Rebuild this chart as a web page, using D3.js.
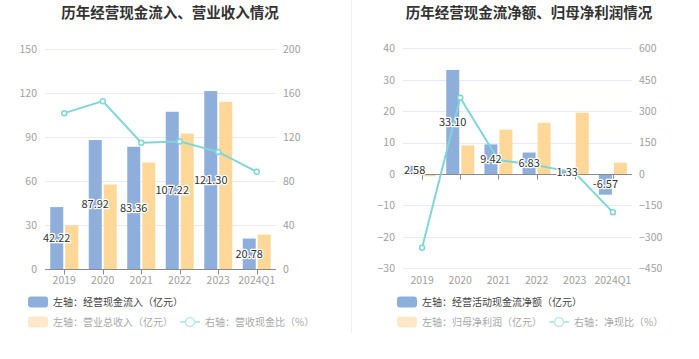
<!DOCTYPE html>
<html><head><meta charset="utf-8">
<script src="https://cdn.jsdelivr.net/npm/d3@7"></script>
<style>
body{margin:0;background:#fff;font-family:"Noto Sans CJK SC","Noto Sans",sans-serif;}
svg text{font-family:"Noto Sans CJK SC","Noto Sans",sans-serif;}
</style></head>
<body><svg id="c" width="699" height="359"></svg>
<script>
const categories = ["2019","2020","2021","2022","2023","2024Q1"];
// left chart
const cashInflow = [42.22, 87.92, 83.36, 107.22, 121.30, 20.78];
const revenue = [29.8, 57.6, 72.6, 92.4, 114.0, 23.5];
const revenueCashRatio = [141.7, 152.6, 114.8, 116.0, 106.4, 88.4];
const leftTicksL = [0, 30, 60, 90, 120, 150];
const leftTicksR = [0, 40, 80, 120, 160, 200];
// right chart
const netCashFlow = [2.58, 33.10, 9.42, 6.83, 1.33, -6.57];
const netProfit = [-0.73, 9.1, 14.1, 16.3, 19.5, 3.6];
const netCashRatio = [-352, 364, 67, 42, 7, -183];
const rightTicksL = [-30, -20, -10, 0, 10, 20, 30, 40];
const rightTicksR = [-450, -300, -150, 0, 150, 300, 450, 600];

const BLUE = "#8eaedc", ORANGE = "#ffd899", LINE = "#7fd6da";
const svg = d3.select("#c");

svg.append("line").attr("x1",351.5).attr("x2",351.5).attr("y1",0).attr("y2",333)
  .attr("stroke","#eeeeee");

function panel(o){
  const g = svg.append("g");
  g.append("text").attr("x",o.titleX).attr("y",18).attr("text-anchor","middle")
    .attr("font-size",14.5).attr("font-weight","bold").attr("fill","#333").text(o.title);
  const x = d3.scaleBand().domain(categories).range([o.x0,o.x1]);
  const yL = d3.scaleLinear().domain([o.ticksL[0], o.ticksL[o.ticksL.length-1]]).range([o.yBottom,o.yTop]);
  const yR = d3.scaleLinear().domain([o.ticksR[0], o.ticksR[o.ticksR.length-1]]).range([o.yBottom,o.yTop]);
  // grid
  g.selectAll(".grid").data(o.ticksL).join("line")
    .attr("x1",o.x0).attr("x2",o.x1).attr("y1",d=>Math.round(yL(d))+0.5).attr("y2",d=>Math.round(yL(d))+0.5)
    .attr("stroke","#e8ebf3").attr("stroke-width",1);
  // axes labels
  const axL = g.append("g").attr("transform",`translate(${o.x0-8},0)`)
    .call(d3.axisLeft(yL).tickValues(o.ticksL).tickSize(0).tickPadding(0));
  axL.select(".domain").remove();
  axL.selectAll("text").attr("fill","#a0a0a0").attr("font-size",10.5);
  const axR = g.append("g").attr("transform",`translate(${o.x1+7},0)`)
    .call(d3.axisRight(yR).tickValues(o.ticksR).tickSize(0).tickPadding(0));
  axR.select(".domain").remove();
  axR.selectAll("text").attr("fill","#a0a0a0").attr("font-size",10.5);
  // bars
  const bw = 13, gap = 2;
  const bx = c => x(c) + x.bandwidth()/2;
  g.selectAll(".b1").data(o.s1).join("rect")
    .attr("x",(d,i)=>bx(categories[i]) - gap/2 - bw)
    .attr("y",d=>yL(Math.max(0,d))).attr("width",bw)
    .attr("height",d=>Math.abs(yL(d)-yL(0)))
    .attr("fill",BLUE);
  g.selectAll(".b2").data(o.s2).join("rect")
    .attr("x",(d,i)=>bx(categories[i]) + gap/2)
    .attr("y",d=>yL(Math.max(0,d))).attr("width",bw)
    .attr("height",d=>Math.abs(yL(d)-yL(0)))
    .attr("fill",ORANGE);
  // x axis line at zero
  const y0 = Math.round(yL(0))+0.5;
  g.append("line").attr("x1",o.x0).attr("x2",o.x1).attr("y1",y0).attr("y2",y0).attr("stroke","#8a8a8a");
  g.selectAll(".tk").data(categories).join("line")
    .attr("x1",d=>Math.round(bx(d))+0.5).attr("x2",d=>Math.round(bx(d))+0.5)
    .attr("y1",y0).attr("y2",y0+5).attr("stroke","#8a8a8a");
  g.selectAll(".xl").data(categories).join("text")
    .attr("x",d=>bx(d)).attr("y",o.xLabelY).attr("text-anchor","middle")
    .attr("fill","#a0a0a0").attr("font-size",10.5).text(d=>d);
  // line
  const line = d3.line().x((d,i)=>bx(categories[i])).y(d=>yR(d));
  g.append("path").datum(o.s3).attr("d",line).attr("fill","none").attr("stroke",LINE).attr("stroke-width",2);
  g.selectAll(".pt").data(o.s3).join("circle")
    .attr("cx",(d,i)=>bx(categories[i])).attr("cy",d=>yR(d)).attr("r",2.5)
    .attr("fill","#fff").attr("stroke",LINE).attr("stroke-width",1.5);
  // labels
  g.selectAll(".lb").data(o.s1).join("text")
    .attr("x",(d,i)=>bx(categories[i]) - gap/2 - bw/2)
    .attr("y",d=>(yL(d)+yL(0))/2).attr("dy","0.35em").attr("text-anchor","middle")
    .attr("font-size",11).attr("fill","#333").attr("stroke","#fff").attr("stroke-width",2.5)
    .attr("paint-order","stroke").attr("stroke-linejoin","round")
    .text(d=>d.toFixed(2));
  // legend
  const L = g.append("g");
  const fs = 10;
  L.append("rect").attr("x",o.legX).attr("y",296.5).attr("width",20).attr("height",11).attr("rx",3).attr("fill",BLUE);
  L.append("text").attr("x",o.legX+25).attr("y",302).attr("dy","0.35em").attr("font-size",fs).attr("fill","#444").text(o.leg1);
  L.append("rect").attr("x",o.legX).attr("y",316.5).attr("width",20).attr("height",11).attr("rx",3).attr("fill","#fde9c9");
  L.append("text").attr("x",o.legX+25).attr("y",322).attr("dy","0.35em").attr("font-size",fs).attr("fill","#a8a8a8").text(o.leg2);
  L.append("line").attr("x1",o.leg3X).attr("x2",o.leg3X+20).attr("y1",322).attr("y2",322).attr("stroke","#b8e9eb").attr("stroke-width",2);
  L.append("circle").attr("cx",o.leg3X+10).attr("cy",322).attr("r",4.5).attr("fill","#fff").attr("stroke","#b8e9eb").attr("stroke-width",1.5);
  L.append("text").attr("x",o.leg3X+25).attr("y",322).attr("dy","0.35em").attr("font-size",fs).attr("fill","#a8a8a8").text(o.leg3);
}

panel({title:"历年经营现金流入、营业收入情况", titleX:170, x0:45, x1:276, yTop:49, yBottom:269,
  ticksL:leftTicksL, ticksR:leftTicksR, s1:cashInflow, s2:revenue, s3:revenueCashRatio, xLabelY:284,
  legX:28, leg3X:180, leg1:"左轴：经营现金流入（亿元）", leg2:"左轴：营业总收入（亿元）", leg3:"右轴：营收现金比（%）"});
panel({title:"历年经营现金流净额、归母净利润情况", titleX:529, x0:403, x1:632, yTop:48.3, yBottom:268.3,
  ticksL:rightTicksL, ticksR:rightTicksR, s1:netCashFlow, s2:netProfit, s3:netCashRatio, xLabelY:284,
  legX:397, leg3X:549, leg1:"左轴：经营活动现金流净额（亿元）", leg2:"左轴：归母净利润（亿元）", leg3:"右轴：净现比（%）"});
</script></body></html>
